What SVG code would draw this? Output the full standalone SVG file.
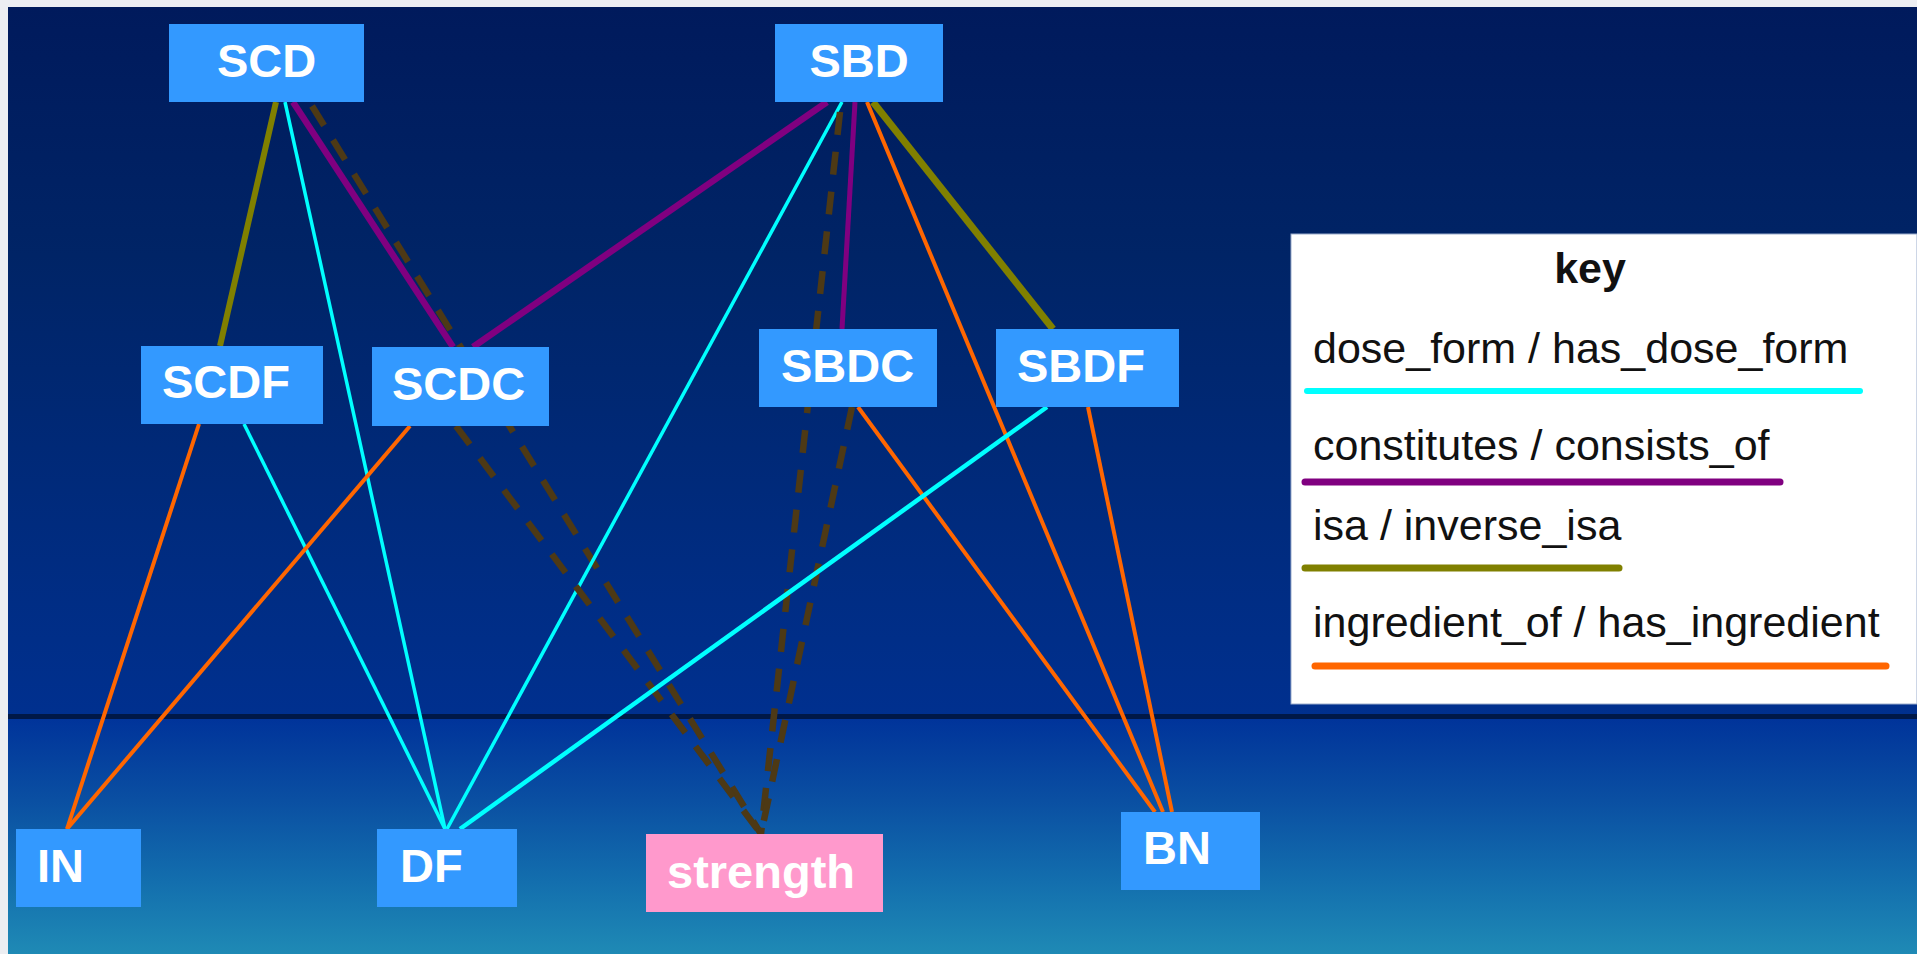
<svg xmlns="http://www.w3.org/2000/svg" width="1917" height="954" viewBox="0 0 1917 954">
  <defs>
    <linearGradient id="skyUpper" x1="0" y1="0" x2="0" y2="1">
      <stop offset="0" stop-color="#001a5c"/>
      <stop offset="0.35" stop-color="#002466"/>
      <stop offset="1" stop-color="#00308f"/>
    </linearGradient>
    <linearGradient id="skyLower" x1="0" y1="0" x2="0" y2="1">
      <stop offset="0" stop-color="#00339a"/>
      <stop offset="0.35" stop-color="#0a4fa2"/>
      <stop offset="0.7" stop-color="#136fae"/>
      <stop offset="1" stop-color="#1f8ab5"/>
    </linearGradient>
    <style>
      .node { fill: #3399ff; }
      .node.measure { fill: #ff99cc; }
      .label { font-family: "Liberation Sans", Arial, sans-serif; font-weight: bold; font-size: 47px; fill: #ffffff; }
      .edge { fill: none; stroke-linecap: butt; }
      .dose { stroke: #00ffff; stroke-width: 3.5; }
      .parts { stroke: #800080; stroke-width: 6.5; }
      .isa { stroke: #808000; stroke-width: 6; }
      .ingr { stroke: #ff6600; stroke-width: 4; }
      .strength { stroke: #4d3915; stroke-width: 6.5; stroke-dasharray: 23 17; }
      .keytext { font-family: "Liberation Sans", Arial, sans-serif; font-size: 43px; fill: #111111; }
      .keyline { stroke-linecap: round; }
    </style>
  </defs>

  <!-- backdrop -->
  <rect x="0" y="0" width="1917" height="954" fill="#eceef2"/>
  <rect x="8" y="7" width="1909" height="710" fill="url(#skyUpper)"/>
  <rect x="8" y="717" width="1909" height="237" fill="url(#skyLower)"/>
  <rect x="8" y="714" width="1909" height="5" fill="#001848"/>

  <!-- legend -->
  <g id="legend">
    <rect x="1291" y="234" width="626" height="470" fill="#ffffff" stroke="#9aaccc" stroke-width="1"/>
    <text class="keytext" x="1590" y="283" text-anchor="middle" font-weight="bold">key</text>
    <text class="keytext" x="1313" y="363">dose_form / has_dose_form</text>
    <line class="keyline" x1="1307" y1="391" x2="1860" y2="391" stroke="#00ffff" stroke-width="6"/>
    <text class="keytext" x="1313" y="460">constitutes / consists_of</text>
    <line class="keyline" x1="1305" y1="482" x2="1780" y2="482" stroke="#800080" stroke-width="7"/>
    <text class="keytext" x="1313" y="540">isa / inverse_isa</text>
    <line class="keyline" x1="1305" y1="568" x2="1619" y2="568" stroke="#808000" stroke-width="7"/>
    <text class="keytext" x="1313" y="637">ingredient_of / has_ingredient</text>
    <line class="keyline" x1="1315" y1="666" x2="1886" y2="666" stroke="#ff6600" stroke-width="7"/>
  </g>

  <!-- relationships -->
  <g id="connectors">
    <line class="edge isa" x1="276" y1="102" x2="220" y2="346"/>
    <line class="edge dose" x1="285" y1="102" x2="445" y2="829"/>
    <line class="edge parts" x1="293" y1="102" x2="453" y2="347"/>
    <line class="edge strength" x1="312" y1="106" x2="761" y2="834"/>
    <line class="edge parts" x1="827" y1="102" x2="473" y2="347"/>
    <line class="edge dose" x1="842" y1="102" x2="447" y2="829"/>
    <line class="edge strength" x1="840" y1="112" x2="761" y2="834"/>
    <line class="edge parts" x1="855" y1="102" x2="842" y2="329" style="stroke-width:5"/>
    <line class="edge ingr" x1="867" y1="102" x2="1163" y2="812"/>
    <line class="edge isa" x1="873" y1="102" x2="1053" y2="329" style="stroke-width:7"/>
    <line class="edge ingr" x1="199" y1="424" x2="67" y2="829"/>
    <line class="edge dose" x1="244" y1="424" x2="445" y2="829"/>
    <line class="edge ingr" x1="410" y1="426" x2="67" y2="829"/>
    <line class="edge strength" x1="456" y1="426" x2="761" y2="834"/>
    <line class="edge strength" x1="852" y1="407" x2="761" y2="834"/>
    <line class="edge ingr" x1="858" y1="407" x2="1155" y2="812"/>
    <line class="edge dose" x1="1047" y1="407" x2="460" y2="829" style="stroke-width:4.5"/>
    <line class="edge ingr" x1="1088" y1="407" x2="1172" y2="812"/>
  </g>

  <!-- concepts -->
  <g id="SCD">
    <rect class="node" x="169" y="24" width="195" height="78"/>
    <text class="label" x="266.5" y="77" text-anchor="middle">SCD</text>
  </g>
  <g id="SBD">
    <rect class="node" x="775" y="24" width="168" height="78"/>
    <text class="label" x="859" y="77" text-anchor="middle">SBD</text>
  </g>
  <g id="SCDF">
    <rect class="node" x="141" y="346" width="182" height="78"/>
    <text class="label" x="162" y="398">SCDF</text>
  </g>
  <g id="SCDC">
    <rect class="node" x="372" y="347" width="177" height="79"/>
    <text class="label" x="392" y="400">SCDC</text>
  </g>
  <g id="SBDC">
    <rect class="node" x="759" y="329" width="178" height="78"/>
    <text class="label" x="781" y="382">SBDC</text>
  </g>
  <g id="SBDF">
    <rect class="node" x="996" y="329" width="183" height="78"/>
    <text class="label" x="1017" y="382">SBDF</text>
  </g>
  <g id="IN">
    <rect class="node" x="16" y="829" width="125" height="78"/>
    <text class="label" x="37" y="882">IN</text>
  </g>
  <g id="DF">
    <rect class="node" x="377" y="829" width="140" height="78"/>
    <text class="label" x="400" y="882">DF</text>
  </g>
  <g id="strength">
    <rect class="node measure" x="646" y="834" width="237" height="78"/>
    <text class="label" x="667" y="888">strength</text>
  </g>
  <g id="BN">
    <rect class="node" x="1121" y="812" width="139" height="78"/>
    <text class="label" x="1143" y="864">BN</text>
  </g>
</svg>
